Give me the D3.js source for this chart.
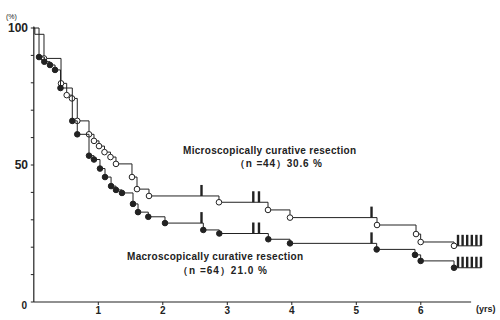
<!DOCTYPE html>
<html><head><meta charset="utf-8">
<script src="https://cdn.jsdelivr.net/npm/d3@7"></script>
<style>
body{margin:0;background:#fff}
svg{display:block;font-family:"Liberation Sans",Arial,sans-serif}
</style></head>
<body><div id="chart"></div>
<script>
// microscopically curative (open circles), n=44
const micTimes=[0.016,0.158,0.422,0.510,0.592,0.674,0.856,0.933,1.011,1.096,1.189,1.274,1.522,1.600,1.786,2.871,3.631,3.972,5.321,5.926,5.998,6.515];
const micSurv=[97.7,88.9,79.8,75.5,74.3,66.1,61.2,58.8,56.9,54.7,52.9,50.4,45.6,41.2,38.7,36.4,33.6,30.8,28.1,24.8,21.9,20.5];
const micCensor=[2.600,3.403,3.491,5.236,6.577,6.648,6.719,6.791,6.862,6.933];
// macroscopically curative (filled circles), n=64
const macTimes=[0.081,0.163,0.251,0.329,0.414,0.597,0.674,0.856,0.933,1.026,1.104,1.198,1.274,1.367,1.538,1.616,1.775,2.034,2.628,2.876,3.636,3.972,5.316,5.910,5.998,6.515];
const macSurv=[89.4,87.7,86.5,84.7,78.1,66.1,61.2,53.4,52.0,48.7,45.6,42.3,40.9,39.8,35.8,32.8,31.1,28.8,26.3,25.0,22.9,21.4,19.2,17.2,15.0,12.5];
const macCensor=[2.600,3.403,3.491,5.236,6.577,6.648,6.719,6.791,6.862,6.933];
const xTicks=[1,2,3,4,5,6];
const yTicks=[0,10,20,30,40,50,60,70,80,90,100];
const yLabels=[0,50,100];

const W=500,H=320;
const x=d3.scaleLinear().domain([0,7]).range([33.8,33.8+64.5*7]);
const y=d3.scaleLinear().domain([0,100]).range([302,28]);
const svg=d3.select('#chart').append('svg').attr('width',W).attr('height',H);
const ink='#222';

// axes
svg.append('line').attr('x1',x(0)).attr('x2',x(6.78)).attr('y1',y(0)).attr('y2',y(0)).attr('stroke',ink).attr('stroke-width',1.2);
svg.append('line').attr('x1',x(0)).attr('x2',x(0)).attr('y1',y(0)).attr('y2',y(100)-1.5).attr('stroke',ink).attr('stroke-width',1.2);
svg.selectAll('.yt').data(yTicks).join('line').attr('x1',x(0)-3).attr('x2',x(0)).attr('y1',d=>y(d)).attr('y2',d=>y(d)).attr('stroke',ink);
svg.selectAll('.xt').data(xTicks).join('line').attr('x1',d=>x(d)).attr('x2',d=>x(d)).attr('y1',y(0)).attr('y2',y(0)+3).attr('stroke',ink);
svg.selectAll('.xl').data(xTicks).join('text').attr('x',d=>x(d)).attr('y',y(0)+12).attr('text-anchor','middle')
  .attr('font-size',10).attr('font-weight','bold').attr('fill',ink).text(d=>d);
svg.selectAll('.yl').data(yLabels).join('text').attr('x',d=>d===0?27:28).attr('y',d=>y(d)+(d===0?7:4))
  .attr('text-anchor','end').attr('font-size',d=>d===0?10:12).attr('font-weight','bold').attr('fill',ink).text(d=>d);
svg.append('text').attr('x',6).attr('y',19).attr('font-size',7).attr('fill',ink).text('(%)');
svg.append('text').attr('x',476).attr('y',312).attr('font-size',9).attr('font-weight','bold').attr('fill',ink).text('(yrs)');

function drawCurve(times,surv,censor,filled,skipFirst){
  const pts=[[0,100]].concat(times.map((t,i)=>[t,surv[i]]));
  const end=d3.max(censor);
  pts.push([end,surv[surv.length-1]]);
  const line=d3.line().x(d=>x(d[0])).y(d=>y(d[1])).curve(d3.curveStepAfter);
  svg.append('path').attr('d',line(pts)).attr('fill','none').attr('stroke',ink).attr('stroke-width',1);
  const sAt=t=>{let s=100;times.forEach((tt,i)=>{if(tt<=t)s=surv[i]});return s};
  svg.selectAll(null).data(censor).join('rect')
    .attr('x',d=>x(d)-1.2).attr('width',2.4).attr('y',d=>y(sAt(d))-11).attr('height',11).attr('fill',ink);
  const marks=times.map((t,i)=>[t,surv[i]]).filter((d,i)=>!(skipFirst&&i===0));
  svg.selectAll(null).data(marks).join('circle')
    .attr('cx',d=>x(d[0])).attr('cy',d=>y(d[1])).attr('r',2.8)
    .attr('fill',filled?ink:'#fff').attr('stroke',ink).attr('stroke-width',1);
}
drawCurve(micTimes,micSurv,micCensor,false,true);
drawCurve(macTimes,macSurv,macCensor,true,false);

function label(lines,xs,ys,lens){
  lines.forEach((t,i)=>svg.append('text').attr('x',xs[i]).attr('y',ys[i]).attr('font-size',10).attr('font-weight','bold')
    .attr('fill',ink).attr('textLength',lens[i]).attr('lengthAdjust','spacing').text(t));
}
label(['Microscopically curative resection','（n =44）30.6 %'],[183,235],[154,167],[173,87]);
label(['Macroscopically curative resection','（n =64）21.0 %'],[127,178],[260,274],[176,89]);
</script></body></html>
